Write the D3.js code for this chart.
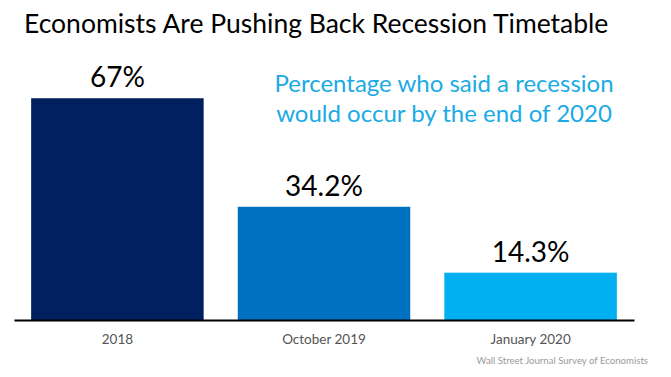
<!DOCTYPE html>
<html>
<head>
<meta charset="utf-8">
<script src="https://cdn.jsdelivr.net/npm/d3@7"></script>
<style>
  html, body { margin: 0; padding: 0; background: #fff; }
  svg { display: block; font-family: Lato, "Open Sans", sans-serif; }
</style>
</head>
<body>
<svg id="chart" width="671" height="377"></svg>
<script>
const categories = ["2018", "October 2019", "January 2020"];
const values = [67, 34.2, 14.3];
const valueLabels = ["67%", "34.2%", "14.3%"];
const barColors = ["#002060", "#0070C0", "#00B0F0"];
const titleText = "Economists Are Pushing Back Recession Timetable";
const subtitleLines = ["Percentage who said a recession", "would occur by the end of 2020"];
const sourceText = "Wall Street Journal Survey of Economists";

const svg = d3.select("#chart");
const baseY = 320;

const x = d3.scaleBand()
  .domain(categories)
  .range([14, 634])
  .paddingInner(0.165)
  .paddingOuter(0.083);

const y = d3.scaleLinear()
  .domain([0, 70])
  .range([baseY, baseY - 70 * 3.31]);

// title
svg.append("text")
  .attr("x", 24).attr("y", 33)
  .attr("font-size", 26.5)
  .attr("fill", "#000")
  .text(titleText);

// subtitle
svg.append("g").selectAll("text")
  .data(subtitleLines)
  .join("text")
  .attr("x", 444)
  .attr("y", (d, i) => 92 + i * 30)
  .attr("text-anchor", "middle")
  .attr("font-size", 24)
  .attr("fill", "#1AABE4")
  .text(d => d);

// bars
const data = categories.map((c, i) => ({ c, v: values[i], label: valueLabels[i], color: barColors[i] }));

svg.append("g").selectAll("rect")
  .data(data)
  .join("rect")
  .attr("x", d => x(d.c))
  .attr("width", x.bandwidth())
  .attr("y", d => y(d.v))
  .attr("height", d => y(0) - y(d.v))
  .attr("fill", d => d.color);

svg.append("g").selectAll("text")
  .data(data)
  .join("text")
  .attr("x", d => x(d.c) + x.bandwidth() / 2)
  .attr("y", d => y(d.v) - 11)
  .attr("text-anchor", "middle")
  .attr("font-size", 28)
  .attr("fill", "#000")
  .text(d => d.label);

// axis
const axis = svg.append("g")
  .attr("transform", `translate(0,${baseY})`)
  .call(d3.axisBottom(x).tickSize(0).tickPadding(14));
axis.select(".domain").attr("stroke", "#000").attr("stroke-width", 2);
axis.selectAll(".tick text")
  .attr("font-family", "Lato, 'Open Sans', sans-serif")
  .attr("font-size", 13.5)
  .attr("fill", "#555555");

// source
svg.append("text")
  .attr("x", 648).attr("y", 364)
  .attr("text-anchor", "end")
  .attr("font-size", 9.6)
  .attr("fill", "#9a9a9a")
  .text(sourceText);
</script>
</body>
</html>
